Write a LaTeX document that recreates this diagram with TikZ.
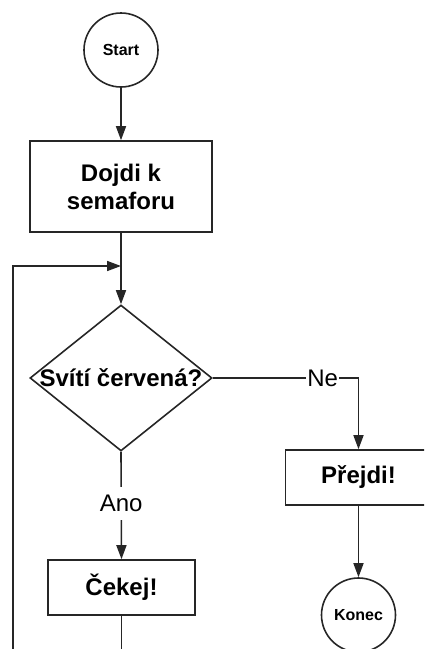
\documentclass[tikz,border=0pt]{standalone}
\usepackage{fontspec}
\setmainfont{Liberation Sans}
\usetikzlibrary{shapes.geometric,arrows.meta}
\begin{document}
\begin{tikzpicture}[x=1pt,y=-1pt,
  line/.style={draw=black!85,line width=1.6pt},
  arr/.style={line,-{Triangle[length=14pt,width=10pt]}},
  terminal/.style={line,circle,minimum size=74pt,inner sep=0pt,
    font=\fontsize{16}{19}\selectfont\bfseries},
  process/.style={line,rectangle,inner sep=0pt,align=center,
    font=\fontsize{24}{28}\selectfont\bfseries},
  decision/.style={line,diamond,minimum width=182pt,minimum height=146pt,
    inner sep=0pt,font=\fontsize{24}{28}\selectfont\bfseries},
  edgelabel/.style={fill=white,inner xsep=1.5pt,inner ysep=8pt,
    font=\fontsize{24}{28}\selectfont}]
  \useasboundingbox (0,0) rectangle (424,649);
  \clip (0,0) rectangle (424,649);

  % nodes
  \node[terminal] (start) at (121,50) {Start};
  \node[process,minimum width=182pt,minimum height=91pt] (walk) at (121,186.5)
    {Dojdi k\\semaforu};
  \node[decision] (red) at (121,378) {\makebox[0pt]{Svítí červená?}};
  \node[process,minimum width=147pt,minimum height=55pt] (wait) at (121.5,587.5) {Čekej!};
  \node[process,minimum width=146pt,minimum height=55pt] (cross) at (358.5,477.5) {Přejdi!};
  \node[terminal] (stop) at (358.5,615) {Konec};

  % loop-back coordinates
  \coordinate (back) at (13,690);
  \coordinate (join) at (121,266);

  % connectors
  \draw[arr] (start) -- (walk);
  \draw[arr] (walk) -- (red);
  \draw[arr] (red.east) -| node[edgelabel,pos=0.377,inner ysep=1pt] {Ne} (cross.north);
  \draw[arr] (red.south) -- node[edgelabel,pos=0.48] {Ano} (wait.north);
  \draw[arr] (cross) -- (stop);
  \draw[arr] (wait.south) |- (back) |- (join);
\end{tikzpicture}
\end{document}
